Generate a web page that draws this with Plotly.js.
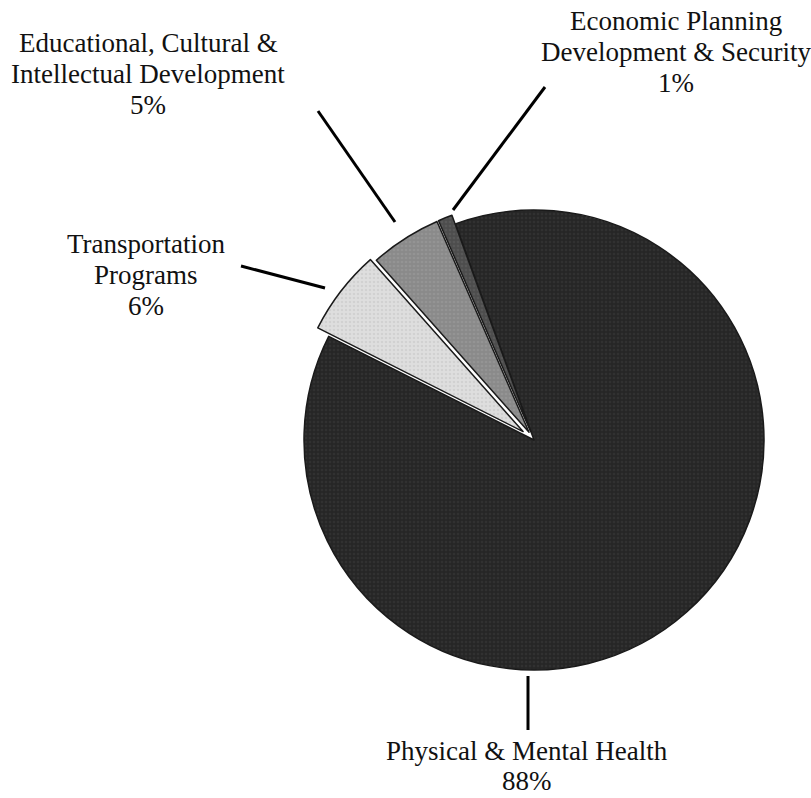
<!DOCTYPE html>
<html>
<head>
<meta charset="utf-8">
<script src="https://cdn.plot.ly/plotly-3.0.1.min.js"></script>
<style>
  html, body { margin: 0; padding: 0; background: #fff; }
  #chart { width: 811px; height: 798px; }
</style>
</head>
<body>
<div id="chart"></div>
<script>
// ---- data ----
const categories = [
  "Physical & Mental Health",
  "Transportation Programs",
  "Educational, Cultural & Intellectual Development",
  "Economic Planning Development & Security"
];
const values = [88, 6, 5, 1];
const percentLabels = ["88%", "6%", "5%", "1%"];
const nameLines = [
  ["Physical & Mental Health"],
  ["Transportation", "Programs"],
  ["Educational, Cultural &", "Intellectual Development"],
  ["Economic Planning", "Development & Security"]
];

// ---- styles / positions (pixels in the 811x798 page) ----
const W = 811, H = 798;
const fills = ["#262626", "#dedede", "#8a8a8a", "#4d4d4d"];
const dots  = ["#3c3c3c", "#c4c4c4", "#9e9e9e", "#666666"];
const pulls = [0, 0.06, 0.04, 0.04];
const center = [534, 440];
const radius = 230;
// centre x, first baseline y and line step of each label block
const labelPos = [[527, 760, 30], [146, 253, 31], [148, 52, 31], [676, 30, 31]];
const fontSize = 27;
const leaders = [
  [[528, 676], [528, 730]],
  [[325, 288], [241, 266]],
  [[395, 222], [318, 111]],
  [[453, 210], [545, 87]]
];

const px = x => x / W;
const py = y => 1 - y / H;
const maxPull = Math.max(...pulls);
const half = radius * (1 + maxPull);

const trace = {
  type: "pie",
  labels: categories,
  values: values,
  sort: false,
  direction: "clockwise",
  rotation: -20,
  pull: pulls,
  textinfo: "none",
  hoverinfo: "label+percent",
  marker: {
    colors: fills,
    line: { color: "#1a1a1a", width: 1.5 },
    pattern: { shape: ".", fgcolor: dots, bgcolor: fills, size: 4, solidity: 0.35, fillmode: "overlay" }
  },
  domain: {
    x: [px(center[0] - half), px(center[0] + half)],
    y: [py(center[1] + half), py(center[1] - half)]
  }
};

const annotations = [];
nameLines.forEach((lines, i) => {
  const all = lines.concat([percentLabels[i]]);
  all.forEach((t, k) => {
    const baseline = labelPos[i][1] + k * labelPos[i][2];
    annotations.push({
      text: t,
      x: px(labelPos[i][0]),
      y: py(baseline - fontSize * 0.33),
      xref: "paper", yref: "paper",
      xanchor: "center", yanchor: "middle",
      showarrow: false,
      borderpad: 0,
      font: { family: "Liberation Serif, Times New Roman, serif", size: fontSize, color: "#111" }
    });
  });
});

const shapes = leaders.map(l => ({
  type: "line", xref: "paper", yref: "paper",
  x0: px(l[0][0]), y0: py(l[0][1]), x1: px(l[1][0]), y1: py(l[1][1]),
  line: { color: "#000", width: 3 }
}));

const layout = {
  width: W, height: H,
  margin: { l: 0, r: 0, t: 0, b: 0 },
  paper_bgcolor: "#fff",
  plot_bgcolor: "#fff",
  showlegend: false,
  annotations: annotations,
  shapes: shapes
};

Plotly.newPlot("chart", [trace], layout, { displayModeBar: false, staticPlot: true });
</script>
</body>
</html>
